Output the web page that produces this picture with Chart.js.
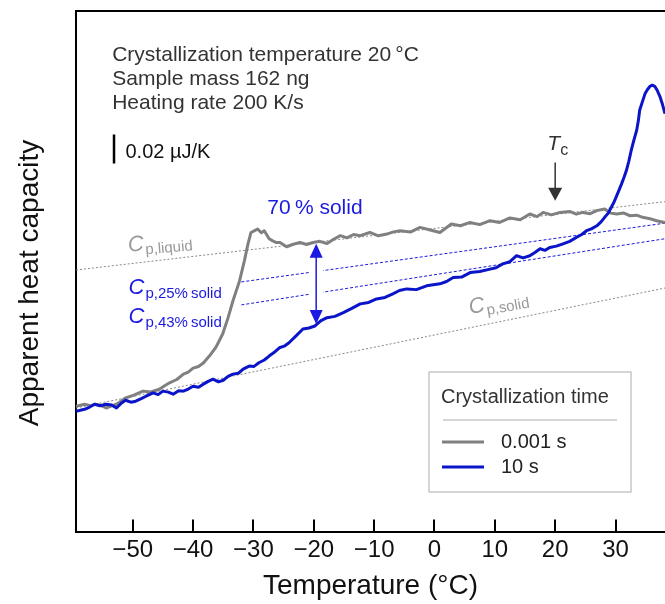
<!DOCTYPE html>
<html>
<head>
<meta charset="utf-8">
<script src="https://cdn.jsdelivr.net/npm/chart.js@4.4.0/dist/chart.umd.min.js"></script>
<style>
  html, body { margin: 0; padding: 0; background: #fff; }
  canvas { display: block; }
</style>
</head>
<body>
<canvas id="myChart" width="665" height="604"></canvas>
<script>
// Temperature (°C) and apparent heat capacity (nJ/K, arbitrary offset)
var grayT = [-59.4,-58.0,-57.0,-56.3,-55.4,-54.4,-53.5,-52.7,-51.9,-51.2,-49.8,-48.3,-47.0,-45.6,-44.7,-43.9,-42.7,-41.6,-40.8,-40.0,
  -39.1,-38.3,-37.3,-36.2,-35.1,-34.2,-33.4,-32.3,-31.5,-30.9,-30.4,-29.8,-29.3,-28.7,-28.2,-27.4,-26.8,-26.2,-25.6,-24.5,
  -23.4,-22.3,-21.2,-20.1,-19.0,-17.8,-16.7,-15.6,-14.5,-13.4,-12.3,-10.7,-9.3,-7.9,-6.8,-5.7,-4.0,-2.4,-0.7,0.9,
  2.8,4.3,5.9,7.5,9.2,10.8,12.5,14.2,15.8,17.0,18.0,19.4,20.8,22.4,23.5,24.6,25.8,26.9,28.2,29.2,
  30.2,31.3,32.4,33.5,34.5,35.7,36.8,38.2];
var grayCp = [86.2,87.6,86.5,87.6,86.9,85.0,86.4,87.6,89.8,91.9,93.8,96.6,96.0,97.9,100.3,102.3,104.6,108.3,109.6,112.4,
  113.5,115.9,120.7,126.9,135.9,147.1,158.6,172.4,186.2,197.9,205.7,207.0,208.1,205.5,206.9,201.4,199.9,198.8,198.8,195.9,
  197.6,198.8,197.4,198.8,199.6,198.1,201.0,203.5,202.0,204.3,203.5,205.7,203.4,204.6,206.1,206.9,206.0,209.2,207.4,205.7,
  211.5,210.3,212.6,211.1,213.8,212.6,215.7,214.4,218.4,216.6,219.5,217.8,219.5,220.2,218.3,219.5,218.6,220.7,221.9,219.0,
  218.4,219.1,217.2,217.6,216.1,215.2,213.8,212.6];

var blueT = [-59.4,-58.0,-57.2,-56.3,-55.4,-54.4,-53.5,-52.7,-51.9,-51.2,-50.3,-49.5,-48.6,-47.8,-46.6,-45.8,-45.0,-44.1,-43.3,-42.4,
  -41.6,-40.8,-40.0,-39.1,-38.3,-37.5,-36.7,-35.8,-35.0,-34.2,-33.4,-32.5,-31.7,-30.7,-29.9,-29.1,-28.2,-27.4,-26.6,-25.7,
  -24.9,-24.1,-22.9,-21.8,-20.8,-19.8,-18.8,-17.8,-16.5,-15.1,-13.7,-12.3,-10.9,-9.6,-8.2,-6.9,-5.8,-4.6,-3.0,-1.3,
  0.9,2.0,3.1,4.5,5.9,7.5,9.2,10.2,11.3,12.5,13.6,14.7,15.8,16.7,17.5,18.3,19.1,20.2,21.3,22.4,
  23.5,24.4,25.2,26.0,26.9,27.6,28.2,28.8,29.3,29.8,30.2,30.6,31.0,31.4,31.8,32.2,32.6,33.0,33.5,33.8,
  34.0,34.5,34.9,35.3,35.7,36.1,36.5,36.9,37.4,37.8,38.2];
var blueCp = [82.8,84.1,85.5,87.6,86.5,87.6,87.0,85.0,88.3,90.3,89.0,89.7,91.4,93.1,95.4,94.2,96.6,95.9,94.5,96.9,
  96.6,98.0,100.0,99.3,101.4,103.3,104.8,103.0,104.1,106.8,108.3,108.9,111.7,113.8,113.6,116.1,118.0,120.7,123.1,126.4,
  127.5,129.9,134.8,139.3,140.0,141.4,145.1,147.1,148.0,150.6,153.5,156.6,157.6,160.0,161.0,163.5,165.8,166.9,166.4,169.0,
  170.4,172.0,174.7,175.0,178.1,178.9,180.5,181.4,184.1,185.6,189.7,188.2,189.7,192.1,194.5,193.4,195.4,196.3,197.9,199.6,
  202.3,204.3,206.9,208.2,210.3,213.0,216.1,219.0,223.0,227.0,231.0,235.0,239.1,243.5,248.3,254.6,262.1,268.5,275.9,283.0,
  289.7,296.2,301.2,304.0,306.2,307.0,306.2,303.5,298.8,293.5,287.4];

// Reference heat capacity lines
var liquidT = [-59.4, 38.2], liquidCp = [179.9, 226.9];
var solidT = [-59.4, 38.2], solidCp = [85.0, 167.5];
var solid25T = [-32.0, 38.2], solid25Cp = [171.7, 212.1];
var solid43T = [-32.0, 38.2], solid43Cp = [155.9, 201.4];

// 0.02 µJ/K scale bar
var barT = [-53.1, -53.1], barCp = [253.1, 273.1];

// Double arrow at -19.6 °C and Tc marker at 20 °C
var arrowT = -19.6, arrowCp = [198.0, 142.8];
var tcT = 20, tcCp = [253.8, 227.6];

var xTicks = [-50, -40, -30, -20, -10, 0, 10, 20, 30];

var FONT = '"Liberation Sans", Arial, sans-serif';
var GRAY = '#808080', BLUE = '#0a14c8', LBLUE = '#1a1ae0';

function pts(xs, ys) {
  return xs.map(function (x, i) { return { x: x, y: ys[i] }; });
}

function cpLabel(ctx, x, y, sub, color, angle) {
  ctx.save();
  ctx.translate(x, y);
  ctx.rotate(angle * Math.PI / 180);
  ctx.fillStyle = color;
  ctx.textAlign = 'left';
  ctx.textBaseline = 'alphabetic';
  ctx.font = 'italic 22px ' + FONT;
  ctx.fillText('C', 0, 0);
  var w = ctx.measureText('C').width;
  ctx.font = '15px ' + FONT;
  ctx.fillText(sub, w + 1, 4);
  ctx.restore();
}

var annotations = {
  id: 'annotations',
  afterDatasetsDraw: function (chart) {
    var ctx = chart.ctx, xs = chart.scales.x, ys = chart.scales.y, a = chart.chartArea;
    var X = function (v) { return xs.getPixelForValue(v); };
    var Y = function (v) { return ys.getPixelForValue(v); };
    ctx.save();

    // top frame line and inward ticks
    ctx.strokeStyle = '#000';
    ctx.lineWidth = 2;
    ctx.beginPath();
    ctx.moveTo(a.left - 1, a.top);
    ctx.lineTo(a.right, a.top);
    xs.ticks.forEach(function (t) {
      var px = Math.round(X(t.value));
      ctx.moveTo(px, a.bottom);
      ctx.lineTo(px, a.bottom - 12);
    });
    ctx.stroke();

    // y axis title
    ctx.save();
    ctx.translate(30, 283);
    ctx.rotate(-Math.PI / 2);
    ctx.fillStyle = '#111';
    ctx.textAlign = 'center';
    ctx.textBaseline = 'middle';
    ctx.font = '28px ' + FONT;
    ctx.fillText('Apparent heat capacity', 0, 0);
    ctx.restore();

    // gap in the blue dashed lines around the double arrow
    ctx.fillStyle = '#fff';
    ctx.fillRect(X(arrowT) - 7, Y(185), 14, Y(158) - Y(185));

    // double arrow
    var ax = X(arrowT), y1 = Y(arrowCp[0]), y2 = Y(arrowCp[1]);
    ctx.strokeStyle = LBLUE;
    ctx.lineWidth = 1.5;
    ctx.beginPath();
    ctx.moveTo(ax, y1 + 10);
    ctx.lineTo(ax, y2 - 10);
    ctx.stroke();
    ctx.fillStyle = LBLUE;
    ctx.beginPath();
    ctx.moveTo(ax, y1); ctx.lineTo(ax - 6.5, y1 + 14); ctx.lineTo(ax + 6.5, y1 + 14); ctx.closePath();
    ctx.moveTo(ax, y2); ctx.lineTo(ax - 6.5, y2 - 14); ctx.lineTo(ax + 6.5, y2 - 14); ctx.closePath();
    ctx.fill();

    // Tc arrow
    var tx = X(tcT), t1 = Y(tcCp[0]), t2 = Y(tcCp[1]);
    ctx.strokeStyle = '#333';
    ctx.lineWidth = 1.5;
    ctx.beginPath();
    ctx.moveTo(tx, t1);
    ctx.lineTo(tx, t2 - 10);
    ctx.stroke();
    ctx.fillStyle = '#333';
    ctx.beginPath();
    ctx.moveTo(tx, t2); ctx.lineTo(tx - 7, t2 - 13); ctx.lineTo(tx + 7, t2 - 13); ctx.closePath();
    ctx.fill();

    ctx.textAlign = 'left';
    ctx.font = 'italic 21px ' + FONT;
    ctx.textBaseline = 'alphabetic';
    ctx.fillText('T', X(18.7), Y(262.1));
    ctx.font = '16px ' + FONT;
    ctx.fillText('c', X(18.7) + 13, Y(262.1) + 5);

    // conditions text
    ctx.fillStyle = '#333';
    ctx.textBaseline = 'middle';
    ctx.font = '21px ' + FONT;
    ctx.fillText('Crystallization temperature 20\u2009°C', X(-53.4), Y(327.6));
    ctx.fillText('Sample mass 162 ng', X(-53.4), Y(311.1));
    ctx.fillText('Heating rate 200 K/s', X(-53.4), Y(294.5));
    ctx.fillStyle = '#111';
    ctx.font = '20px ' + FONT;
    ctx.fillText('0.02 µJ/K', X(-51.2), Y(260.7));

    ctx.fillStyle = LBLUE;
    ctx.textAlign = 'center';
    ctx.font = '21px ' + FONT;
    ctx.fillText('70\u2009% solid', X(-19.8), Y(222.1));

    // heat capacity labels
    cpLabel(ctx, X(-50.7), Y(192.4), 'p,liquid', '#999', -5);
    cpLabel(ctx, X(-50.7), Y(163.5), 'p,25%\u2009solid', LBLUE, 0);
    cpLabel(ctx, X(-50.7), Y(143.5), 'p,43%\u2009solid', LBLUE, 0);
    cpLabel(ctx, X(5.9), Y(149.7), 'p,solid', '#999', -10);

    // legend
    var lx = 429, ly = 372;
    ctx.strokeStyle = '#c8c8c8';
    ctx.lineWidth = 1.5;
    ctx.strokeRect(lx, ly, 202, 120);
    ctx.beginPath();
    ctx.moveTo(lx + 14, ly + 48);
    ctx.lineTo(lx + 188, ly + 48);
    ctx.stroke();
    ctx.textAlign = 'left';
    ctx.textBaseline = 'middle';
    ctx.font = '20px ' + FONT;
    ctx.fillStyle = '#333';
    ctx.fillText('Crystallization time', lx + 12, ly + 25);
    ctx.lineWidth = 3;
    ctx.strokeStyle = GRAY;
    ctx.beginPath(); ctx.moveTo(lx + 13, ly + 70); ctx.lineTo(lx + 55, ly + 70); ctx.stroke();
    ctx.strokeStyle = BLUE;
    ctx.beginPath(); ctx.moveTo(lx + 13, ly + 95); ctx.lineTo(lx + 55, ly + 95); ctx.stroke();
    ctx.fillStyle = '#222';
    ctx.fillText('0.001 s', lx + 72, ly + 70);
    ctx.fillText('10 s', lx + 72, ly + 95);

    ctx.restore();
  }
};

var ctx = document.getElementById('myChart');
var myChart = new Chart(ctx, {
  type: 'scatter',
  data: {
    datasets: [
      { label: '10 s', data: pts(blueT, blueCp), borderColor: BLUE, borderWidth: 3, order: 0 },
      { label: '0.001 s', data: pts(grayT, grayCp), borderColor: GRAY, borderWidth: 3, order: 1 },
      { label: 'scale', data: pts(barT, barCp), borderColor: '#000', borderWidth: 2.5, order: 2 },
      { label: 'Cp,25%', data: pts(solid25T, solid25Cp), borderColor: LBLUE, borderWidth: 1, borderDash: [3, 2], order: 3 },
      { label: 'Cp,43%', data: pts(solid43T, solid43Cp), borderColor: LBLUE, borderWidth: 1, borderDash: [3, 2], order: 3 },
      { label: 'Cp,liquid', data: pts(liquidT, liquidCp), borderColor: '#888', borderWidth: 1, borderDash: [2, 2], order: 4 },
      { label: 'Cp,solid', data: pts(solidT, solidCp), borderColor: '#888', borderWidth: 1, borderDash: [2, 2], order: 4 }
    ]
  },
  options: {
    responsive: false,
    animation: false,
    showLine: true,
    elements: {
      point: { radius: 0, hoverRadius: 0 },
      line: { tension: 0, borderJoinStyle: 'round', fill: false }
    },
    layout: { padding: { top: 11, right: 0, bottom: 0, left: 76 } },
    plugins: { legend: { display: false }, tooltip: { enabled: false } },
    scales: {
      x: {
        type: 'linear',
        min: -59.4,
        max: 38.2,
        afterBuildTicks: function (scale) {
          scale.ticks = xTicks.map(function (v) { return { value: v }; });
        },
        ticks: {
          autoSkip: false,
          maxRotation: 0,
          padding: 4,
          color: '#111',
          font: { family: FONT, size: 24 },
          callback: function (v) { return v < 0 ? '\u2212' + (-v) : '' + v; }
        },
        grid: { display: false, drawTicks: false },
        border: { display: true, color: '#000', width: 2 },
        title: {
          display: true,
          text: 'Temperature (°C)',
          color: '#111',
          font: { family: FONT, size: 28 },
          padding: { top: 1, bottom: 1 }
        }
      },
      y: {
        min: 0,
        max: 358,
        ticks: { display: false },
        grid: { display: false, drawTicks: false },
        border: { display: true, color: '#000', width: 2 },
        title: { display: false }
      }
    }
  },
  plugins: [annotations]
});
</script>
</body>
</html>
